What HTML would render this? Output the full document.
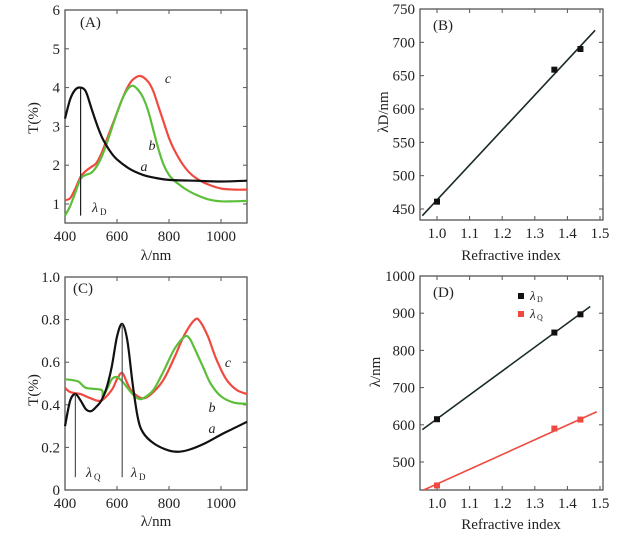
<!DOCTYPE html>
<html><head><meta charset="utf-8"><style>
html,body{margin:0;padding:0;background:#fff;}
svg{display:block;font-family:"Liberation Serif",serif;}
</style></head><body>
<svg id="s" width="630" height="538" viewBox="0 0 630 538"></svg>
<script>
// Panel A data
const aX=[400,420,440,460,480,500,520,540,560,580,600,650,700,750,800,900,1000,1100];
const aA=[3.2,3.7,3.95,4.0,3.9,3.5,3.1,2.75,2.5,2.3,2.15,1.9,1.75,1.67,1.62,1.6,1.58,1.6];
const bAX=[400,420,440,460,480,500,520,540,560,580,600,620,640,660,680,700,720,740,760,780,800,820,840,860,900,950,1000,1050,1100];
const bA=[0.7,0.95,1.3,1.65,1.75,1.8,1.95,2.2,2.55,2.95,3.35,3.7,3.95,4.05,3.95,3.75,3.4,2.9,2.4,2.0,1.75,1.6,1.5,1.4,1.25,1.12,1.07,1.07,1.08];
const cAX=[400,420,440,460,480,500,520,540,560,580,600,620,640,660,690,720,740,760,780,800,820,850,880,920,960,1000,1050,1100];
const cA=[1.1,1.15,1.4,1.7,1.85,1.95,2.05,2.3,2.65,3.0,3.35,3.7,4.0,4.2,4.3,4.15,3.9,3.5,3.1,2.7,2.4,2.05,1.8,1.6,1.48,1.4,1.37,1.37];
// Panel C data
const aCX=[400,420,440,460,480,500,520,540,560,580,600,620,640,660,680,700,740,800,840,880,940,1000,1050,1100];
const aC=[0.3,0.42,0.45,0.42,0.38,0.37,0.39,0.42,0.48,0.58,0.72,0.78,0.7,0.5,0.34,0.27,0.22,0.185,0.18,0.19,0.22,0.26,0.29,0.32];
const bCX=[400,450,480,540,545,560,580,600,620,640,660,680,700,740,780,820,860,880,900,930,960,1000,1050,1100];
const bC=[0.52,0.51,0.48,0.47,0.44,0.47,0.52,0.53,0.51,0.48,0.45,0.43,0.43,0.47,0.56,0.66,0.72,0.71,0.66,0.58,0.5,0.44,0.41,0.405];
const cCX=[400,420,460,500,540,580,600,620,640,660,700,740,780,820,860,900,920,950,980,1020,1060,1100];
const cC=[0.48,0.46,0.45,0.43,0.42,0.47,0.52,0.55,0.5,0.46,0.43,0.46,0.52,0.62,0.73,0.8,0.79,0.72,0.62,0.52,0.47,0.45];
// Panel B data
const bN=[1.0,1.36,1.44];
const bD=[461,659,690];
const bFit=[[0.955,440],[1.485,718]];
// Panel D data
const dN=[1.0,1.36,1.44];
const dD=[615,848,897];
const dQ=[437,590,614];
const dFitD=[[0.955,587],[1.47,918]];
const dFitQ=[[0.96,425],[1.49,635]];
const tickA=[1,2,3,4,5,6], tickC=[0,0.2,0.4,0.6,0.8,1.0], tickWl=[400,600,800,1000];
const tickB=[450,500,550,600,650,700,750], tickD=[500,600,700,800,900,1000], tickN=[1.0,1.1,1.2,1.3,1.4,1.5];

const svg=document.getElementById('s');const NS='http://www.w3.org/2000/svg';
function el(t,a,p){const e=document.createElementNS(NS,t);for(const k in a)e.setAttribute(k,a[k]);(p||svg).appendChild(e);return e;}
function txt(x,y,s,anchor,size,name,style){const t=el('text',{x:x,y:y,'text-anchor':anchor||'middle','font-size':size||15,fill:'#222'});


if(style)t.setAttribute('font-style',style);t.textContent=s;return t;}
function lin(d0,d1,p0,p1){return v=>p0+(v-d0)/(d1-d0)*(p1-p0);}
function panel(id,L,R,T,B,xs,ys,xt,yt,xfmt,yfmt){
  const g=el('g',{});
  
  
  const fr=el('rect',{x:L,y:T,width:R-L,height:B-T,fill:'none',stroke:'#555','stroke-width':1.3},g);
  
  
  xt.forEach(v=>{const x=xs(v);el('line',{x1:x,x2:x,y1:B,y2:B-4,stroke:'#555'},g);el('line',{x1:x,x2:x,y1:T,y2:T+4,stroke:'#555'},g);
    txt(x,B+18,xfmt(v),'middle',15,'x-tick-label');});
  yt.forEach(v=>{const y=ys(v);el('line',{x1:L,x2:L+4,y1:y,y2:y,stroke:'#555'},g);el('line',{x1:R,x2:R-4,y1:y,y2:y,stroke:'#555'},g);
    txt(L-5,y+5,yfmt(v),'end',15,'y-tick-label');});
  return g;}
function curve(xa,ya,xs,ys,col,name,w){
  const P=xa.map((v,i)=>[xs(v),ys(ya[i])]);
  let d='M'+P[0][0].toFixed(1)+','+P[0][1].toFixed(1);
  for(let i=0;i<P.length-1;i++){const p0=P[i-1]||P[i],p1=P[i],p2=P[i+1],p3=P[i+2]||P[i+1];
    const c1=[p1[0]+(p2[0]-p0[0])/6,p1[1]+(p2[1]-p0[1])/6],c2=[p2[0]-(p3[0]-p1[0])/6,p2[1]-(p3[1]-p1[1])/6];
    d+='C'+c1.map(n=>n.toFixed(1)).join(',')+' '+c2.map(n=>n.toFixed(1)).join(',')+' '+p2.map(n=>n.toFixed(1)).join(',');}
  const p=el('path',{d:d,fill:'none',stroke:col,'stroke-width':w||2.2,'stroke-linejoin':'round'});
  
  }
function pts(xa,ya,xs,ys,col,name){xa.forEach((v,i)=>{const r=el('rect',{x:xs(v)-3,y:ys(ya[i])-3,width:6,height:6,fill:col});
  
  });}

// Panel A
{const xs=lin(400,1100,65,247),ys=lin(1,6,204,10);
panel('a',65,247,10,223,xs,ys,tickWl,tickA,v=>v,v=>v);
curve(cAX,cA,xs,ys,'#f04a40','curve-c-a');curve(bAX,bA,xs,ys,'#5cbf3a','curve-b-a');curve(aX,aA,xs,ys,'#111','curve-a-a');
const vl=el('line',{x1:xs(460),x2:xs(460),y1:ys(0.7),y2:ys(4.0),stroke:'#222','stroke-width':1.2});

txt(92,212,'λ','start',14,'lambda-d-label','italic');txt(100,215,'D','start',9,'lambda-d-sub');
txt(80,27,'(A)','start',15,'panel-label-a');
txt(168,83,'c','middle',14,'label-c-a','italic');txt(152,150,'b','middle',14,'label-b-a','italic');txt(144,171,'a','middle',14,'label-a-a','italic');
txt(156,260,'λ/nm','middle',15,'x-axis-title-a');
const t=txt(0,0,'T(%)','middle',15,'y-axis-title-a');t.setAttribute('transform','translate(38,118) rotate(-90)');}
// Panel C
{const xs=lin(400,1100,65,247),ys=lin(0,1,490,277);
panel('c',65,247,277,490,xs,ys,tickWl,tickC,v=>v,v=>v===0?'0':v.toFixed(1));
curve(cCX,cC,xs,ys,'#f04a40','curve-c-c');curve(bCX,bC,xs,ys,'#5cbf3a','curve-b-c');curve(aCX,aC,xs,ys,'#111','curve-a-c');
[[440,0.45,'lambda-q-marker'],[620,0.78,'lambda-d-marker']].forEach(m=>{const l=el('line',{x1:xs(m[0]),x2:xs(m[0]),y1:ys(0.06),y2:ys(m[1]),stroke:'#555','stroke-width':1.2});
});
txt(86,477,'λ','start',14,'lambda-q-label','italic');txt(94,480,'Q','start',9,'lambda-q-sub');
txt(131,477,'λ','start',14,'lambda-d-label','italic');txt(139,480,'D','start',9,'lambda-d-sub');
txt(73,293,'(C)','start',15,'panel-label-c');
txt(228,367,'c','middle',14,'label-c-c','italic');txt(212,412,'b','middle',14,'label-b-c','italic');txt(212,433,'a','middle',14,'label-a-c','italic');
txt(156,526,'λ/nm','middle',15,'x-axis-title-c');
const t=txt(0,0,'T(%)','middle',15,'y-axis-title-c');t.setAttribute('transform','translate(38,390) rotate(-90)');}
// Panel B
{const xs=lin(1.0,1.5,437,600),ys=lin(450,750,209,9);
panel('b',420,603,9,220,xs,ys,tickN,tickB,v=>v.toFixed(1),v=>v);
const f=el('line',{x1:xs(bFit[0][0]),y1:ys(bFit[0][1]),x2:xs(bFit[1][0]),y2:ys(bFit[1][1]),stroke:'#1a2a2a','stroke-width':1.6});

pts(bN,bD,xs,ys,'#111','point-b');
txt(433,30,'(B)','start',15,'panel-label-b');
txt(511,260,'Refractive index','middle',15,'x-axis-title-b');
const t=txt(0,0,'λD/nm','middle',15,'y-axis-title-b');t.setAttribute('transform','translate(388,112) rotate(-90)');}
// Panel D
{const xs=lin(1.0,1.5,437,600),ys=lin(500,1000,462,276);
panel('d',420,603,276,490,xs,ys,tickN,tickD,v=>v.toFixed(1),v=>v);
[[dFitD,'#1a2a2a','fit-line-d'],[dFitQ,'#f04a40','fit-line-q']].forEach(m=>{const f=el('line',{x1:xs(m[0][0][0]),y1:ys(m[0][0][1]),x2:xs(m[0][1][0]),y2:ys(m[0][1][1]),stroke:m[1],'stroke-width':1.6});
});
pts(dN,dD,xs,ys,'#111','point-d');pts(dN,dQ,xs,ys,'#f04a40','point-q');
txt(433,297,'(D)','start',15,'panel-label-d');
const l1=el('rect',{x:518,y:293,width:6,height:6,fill:'#111'});
const l2=el('rect',{x:518,y:311,width:6,height:6,fill:'#f04a40'});
txt(530,300,'λ','start',13,'legend-entry-d','italic');txt(537,302,'D','start',8,'legend-sub-d');
txt(530,318,'λ','start',13,'legend-entry-q','italic');txt(537,320,'Q','start',8,'legend-sub-q');
txt(511,529,'Refractive index','middle',15,'x-axis-title-d');
const t=txt(0,0,'λ/nm','middle',15,'y-axis-title-d');t.setAttribute('transform','translate(380,372) rotate(-90)');}
</script>
</body></html>
